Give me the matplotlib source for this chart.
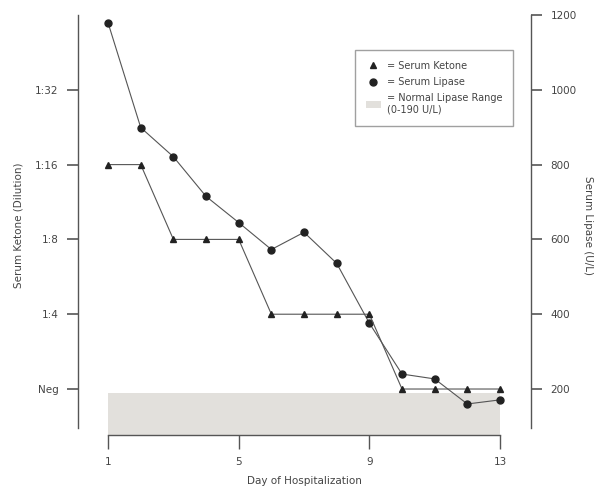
import matplotlib.pyplot as plt
from matplotlib.lines import Line2D
from matplotlib.patches import Patch

# Data
days = [1, 2, 3, 4, 5, 6, 7, 8, 9, 10, 11, 12, 13]
# ketone dilution as step index: 0=Neg, 1=1:4, 2=1:8, 3=1:16, 4=1:32
ketone = [3, 3, 2, 2, 2, 1, 1, 1, 1, 0, 0, 0, 0]
lipase = [1179, 899, 821, 715, 645, 573, 619, 536, 376, 240, 227, 160, 171]
ketone_ticks = [0, 1, 2, 3, 4]
ketone_labels = ['Neg', '1:4', '1:8', '1:16', '1:32']
lipase_ticks = [200, 400, 600, 800, 1000, 1200]
day_ticks = [1, 5, 9, 13]
normal_range = (0, 190)

grey = '#555555'
txt = '#444444'
band = '#e2e0dc'

fig = plt.figure(figsize=(6.02, 4.93), dpi=100)
ax = fig.add_axes([0.1296, 0.1176, 0.7525, 0.852])  # left: ketone
ax2 = ax.twinx()  # right: lipase

lip_lo, lip_hi = 77, 1200
ax2.set_ylim(lip_lo, lip_hi)
ax.set_ylim((lip_lo - 200) / 200, (lip_hi - 200) / 200)
ax.set_xlim(0.08, 13.95)

# normal lipase band
ax2.axhspan(normal_range[0], normal_range[1], xmin=(1 - 0.08) / 13.87,
            xmax=(13 - 0.08) / 13.87, color=band, zorder=0, lw=0)

ax2.plot(days, lipase, color=grey, lw=0.8, marker='o', ms=5,
         mfc='#222222', mec='#222222', zorder=3)
ax.plot(days, ketone, color=grey, lw=0.8, marker='^', ms=4.5,
        mfc='#222222', mec='#222222', zorder=3)
ax.set_zorder(ax2.get_zorder() + 1)
ax.patch.set_visible(False)

for a in (ax, ax2):
    for s in a.spines.values():
        s.set_color(grey)
        s.set_linewidth(1.0)
    a.spines['top'].set_visible(False)

ax.spines['right'].set_visible(False)
ax2.spines['left'].set_visible(False)
ax2.spines['bottom'].set_visible(False)
ax.spines['left'].set_bounds((96 - 200) / 200, 5.0)
ax2.spines['right'].set_bounds(96, 1200)
ax.spines['bottom'].set_bounds(1, 13)

ax.set_yticks(ketone_ticks)
ax.set_yticklabels(ketone_labels)
ax2.set_yticks(lipase_ticks)
ax.set_xticks(day_ticks)

ax.tick_params(axis='y', length=8, width=1.2, color=grey, labelsize=7.5,
               labelcolor=txt, pad=6)
ax.tick_params(axis='x', length=10, width=1.0, color=grey, labelsize=7.5,
               labelcolor=txt, pad=6)
ax2.tick_params(axis='y', length=8, width=1.2, color=grey, labelsize=7.5,
                labelcolor=txt, pad=6)

ax.set_xlabel('Day of Hospitalization', fontsize=7.5, color=txt, labelpad=6)
ax.set_ylabel('Serum Ketone (Dilution)', fontsize=7.5, color=txt, labelpad=8)
ax2.set_ylabel('Serum Lipase (U/L)', fontsize=7.5, color=txt, rotation=-90,
               labelpad=12)

handles = [
    Line2D([], [], ls='none', marker='^', ms=4.5, color='#222222'),
    Line2D([], [], ls='none', marker='o', ms=5, color='#222222'),
    Patch(facecolor=band, edgecolor='none'),
]
labels = ['= Serum Ketone', '= Serum Lipase', '= Normal Lipase Range\n(0-190 U/L)']
leg = ax.legend(handles, labels, loc='upper left',
                bbox_to_anchor=(355 / 602, 1 - 50 / 493),
                bbox_transform=fig.transFigure, borderaxespad=0, fontsize=7,
                frameon=True, fancybox=False, edgecolor='#888888',
                handlelength=1.6, handletextpad=0.6, borderpad=1.1,
                labelspacing=0.65)
for t in leg.get_texts():
    t.set_color(txt)
leg.get_frame().set_linewidth(1.0)

fig.savefig('out.png', dpi=100)
